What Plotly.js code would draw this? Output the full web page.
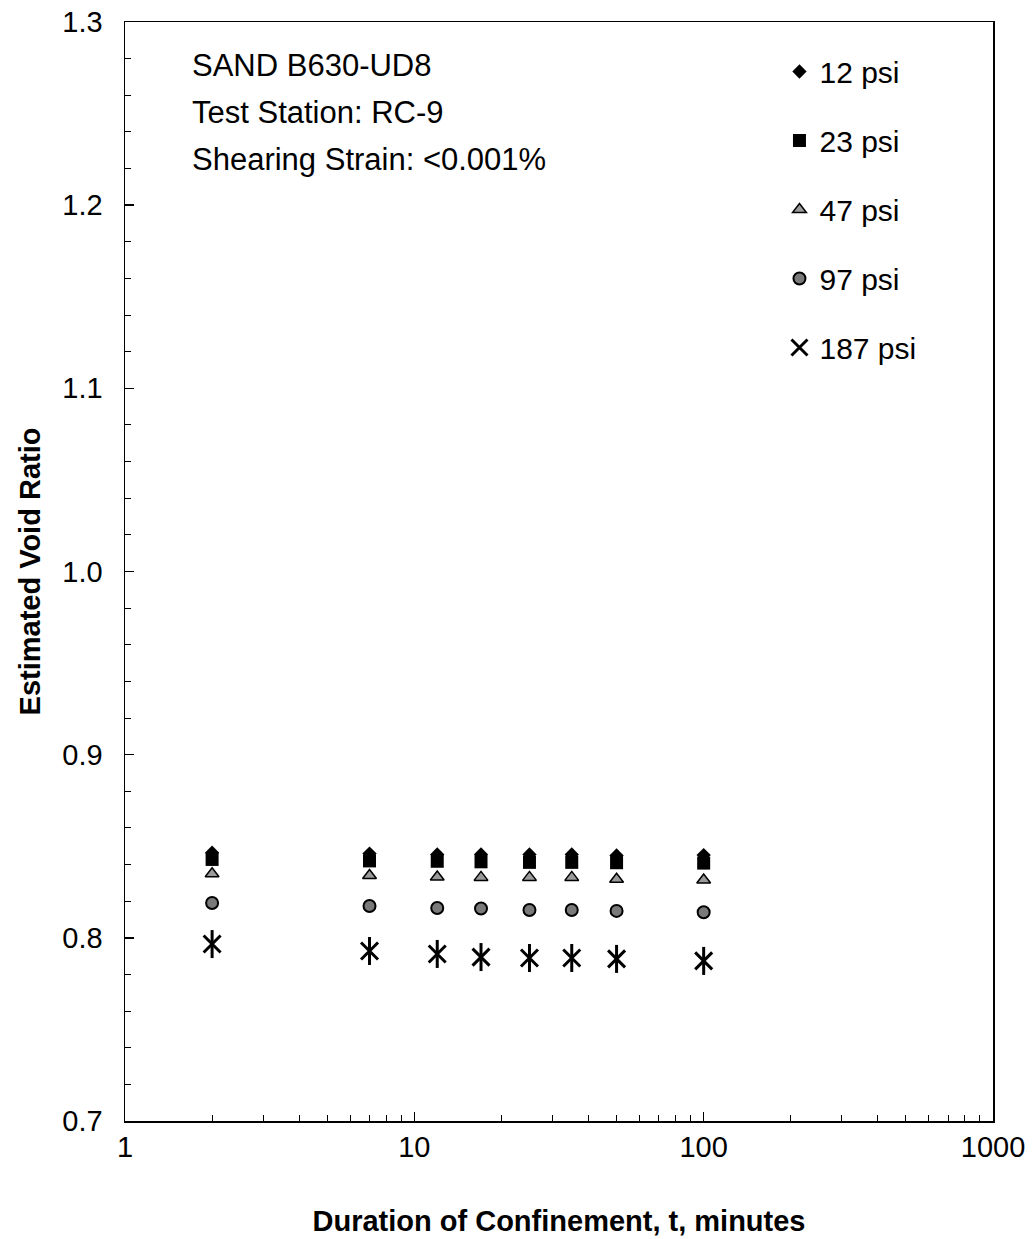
<!DOCTYPE html>
<html>
<head>
<meta charset="utf-8">
<script src="https://cdn.plot.ly/plotly-3.0.1.min.js"></script>
<style>html,body{margin:0;padding:0;background:#fff;}#chart{width:1034px;height:1239px;}</style>
</head>
<body>
<div id="chart"></div>
<script>
// Duration of confinement (minutes)
const durations = [2, 7, 12, 17, 25, 35, 50, 100];
// Estimated void ratio per confining pressure
const psi12 = [0.8465, 0.846, 0.8455, 0.8455, 0.8455, 0.8455, 0.845, 0.8452];
const psi23 = [0.8428, 0.842, 0.8418, 0.8415, 0.8412, 0.8412, 0.841, 0.8408];
const psi47 = [0.835, 0.834, 0.8332, 0.833, 0.833, 0.833, 0.832, 0.8316];
const psi97 = [0.819, 0.8174, 0.8163, 0.816, 0.8152, 0.8152, 0.8147, 0.814];
const psi187 = [0.7966, 0.7928, 0.7912, 0.7895, 0.789, 0.789, 0.7885, 0.7874];
const seriesNames = ["12 psi", "23 psi", "47 psi", "97 psi", "187 psi"];
const xTickVals = [1, 10, 100, 1000];
const xTickText = ["1", "10", "100", "1000"];
const yTickVals = [0.7, 0.8, 0.9, 1.0, 1.1, 1.2, 1.3];
const yTickText = ["0.7", "0.8", "0.9", "1.0", "1.1", "1.2", "1.3"];
const notes = ["SAND B630-UD8", "Test Station: RC-9", "Shearing Strain: <0.001%"];

const FONT = "Liberation Sans, Arial, sans-serif";

function tr(y, name, marker, group, rank, showlegend) {
  return {x: durations, y: y, name: name, mode: "markers", type: "scatter",
    marker: marker, legendgroup: group, legendrank: rank,
    showlegend: showlegend !== false, cliponaxis: false};
}

const traces = [
  tr(psi47, seriesNames[2], {symbol: "triangle-up", size: 12, color: "#9a9a9a", line: {color: "#000", width: 1.5}}, "g3", 3),
  tr(psi97, seriesNames[3], {symbol: "circle", size: 12, color: "#7a7a7a", line: {color: "#000", width: 2}}, "g4", 4),
  tr(psi187, seriesNames[4], {symbol: "x-thin-open", size: 17, color: "#000", line: {color: "#000", width: 3}}, "g5", 5),
  tr(psi187, seriesNames[4], {symbol: "line-ns-open", size: 20, color: "#000", line: {color: "#000", width: 3}}, "g5", 6, false),
  tr(psi23, seriesNames[1], {symbol: "square", size: 13, color: "#000", line: {width: 0}}, "g2", 2),
  tr(psi12, seriesNames[0], {symbol: "diamond", size: 11, color: "#000", line: {width: 0}}, "g1", 1)
];

const annotations = notes.map((t, i) => ({
  text: t, xref: "paper", yref: "paper", x: 0.0745, y: [0.960, 0.918, 0.8753][i],
  xanchor: "left", yanchor: "middle", showarrow: false,
  font: {family: FONT, size: 31, color: "#000"}
}));

const layout = {
  width: 1034, height: 1239,
  margin: {l: 125, r: 41, t: 22, b: 118},
  paper_bgcolor: "#fff", plot_bgcolor: "#fff",
  font: {family: FONT, color: "#000"},
  showlegend: true,
  legend: {
    x: 0.754, y: 0.9786, xanchor: "left", yanchor: "top",
    font: {family: FONT, size: 30, color: "#000"},
    traceorder: "grouped", tracegroupgap: 27, itemwidth: 30,
    bgcolor: "rgba(0,0,0,0)", borderwidth: 0
  },
  xaxis: {
    type: "log", range: [0, 3], autorange: false,
    tickmode: "array", tickvals: xTickVals, ticktext: xTickText,
    ticks: "inside", ticklen: 9, tickwidth: 1.5, tickcolor: "#000",
    minor: {ticks: "inside", ticklen: 6, tickwidth: 1, tickcolor: "#000", dtick: "D1", showgrid: false},
    showline: true, linecolor: "#000", linewidth: 1.5, mirror: true,
    showgrid: false, zeroline: false,
    ticklabelstandoff: 0,
    tickfont: {family: FONT, size: 29, color: "#000"},
    title: {text: "<b>Duration of Confinement, t, minutes</b>", standoff: 48,
      font: {family: FONT, size: 29, color: "#000"}},
    automargin: false
  },
  yaxis: {
    range: [0.7, 1.3], autorange: false,
    tickmode: "array", tickvals: yTickVals, ticktext: yTickText,
    ticks: "inside", ticklen: 9, tickwidth: 1.5, tickcolor: "#000",
    minor: {ticks: "inside", ticklen: 6, tickwidth: 1, tickcolor: "#000", dtick: 0.02, showgrid: false},
    showline: true, linecolor: "#000", linewidth: 1.5, mirror: true,
    showgrid: false, zeroline: false,
    ticklabelstandoff: 15,
    tickfont: {family: FONT, size: 29, color: "#000"},
    title: {text: "<b>Estimated Void Ratio</b>", standoff: 13,
      font: {family: FONT, size: 29, color: "#000"}},
    automargin: false
  },
  annotations: annotations
};

Plotly.newPlot("chart", traces, layout, {staticPlot: true, displayModeBar: false});
</script>
</body>
</html>
